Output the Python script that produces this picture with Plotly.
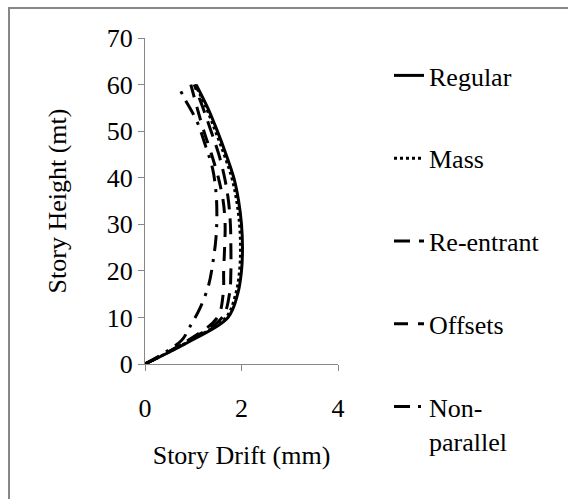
import plotly.graph_objects as go

# Story heights (m)
heights = [0, 5, 10, 15, 20, 25, 30, 35, 40, 45, 50, 55, 60]
heights_np = [0, 5, 8, 12, 17, 22, 27, 32, 37, 42, 47, 52, 57, 59]

# Story drift (mm)
regular = [0, 0.95, 1.72, 1.92, 2.0, 2.02, 2.0, 1.94, 1.84, 1.68, 1.5, 1.3, 1.06]
mass = [0, 0.93, 1.68, 1.88, 1.96, 1.98, 1.96, 1.9, 1.8, 1.64, 1.46, 1.27, 1.04]
re_entrant = [0, 0.9, 1.6, 1.75, 1.78, 1.78, 1.77, 1.73, 1.65, 1.53, 1.37, 1.2, 1.02]
offsets = [0, 0.88, 1.5, 1.62, 1.63, 1.65, 1.66, 1.62, 1.52, 1.38, 1.22, 1.08, 0.95]
non_parallel = [0, 0.75, 0.93, 1.14, 1.32, 1.41, 1.47, 1.49, 1.47, 1.4, 1.25, 1.08, 0.82, 0.72]

x_ticks = [0, 2, 4]
y_ticks = [0, 10, 20, 30, 40, 50, 60, 70]

FONT = "Liberation Serif, Times New Roman, serif"
FS = 26

series = [
    ("Regular", regular, heights, "solid"),
    ("Mass", mass, heights, "3px,3px"),
    ("Re-entrant", re_entrant, heights, "16px,9px"),
    ("Offsets", offsets, heights, "14px,10px"),
    ("Non-<br>parallel", non_parallel, heights_np, "16px,8px,3px,8px"),
]

fig = go.Figure()
for i, (name, xs, ys, dash) in enumerate(series):
    fig.add_trace(go.Scatter(
        x=xs, y=ys, mode="lines", name=name, legendgroup=f"g{i}",
        line=dict(color="black", width=3, dash=dash, shape="spline", smoothing=1.0),
    ))

# plot area: x 145..338 px, y 38..364 px
L, R, T, B = 145, 338, 38, 364
W, H = 568, 499
pw, ph = R - L, B - T

def px_x(p):
    return (p - L) / pw

def px_y(p):
    return (B - p) / ph

fig.add_shape(type="rect", xref="paper", yref="paper",
              x0=px_x(9), x1=px_x(585), y0=px_y(520), y1=px_y(8),
              line=dict(color="#878787", width=2), fillcolor="rgba(0,0,0,0)", layer="below")

fig.update_layout(
    width=W, height=H,
    margin=dict(l=L, r=W - R, t=T, b=H - B),
    paper_bgcolor="white", plot_bgcolor="white",
    font=dict(family=FONT, size=FS, color="black"),
    showlegend=True,
    legend=dict(
        x=px_x(389), y=px_y(52), xanchor="left", yanchor="top",
        traceorder="grouped", tracegroupgap=46, valign="top",
        font=dict(family=FONT, size=FS, color="black"),
        bgcolor="rgba(0,0,0,0)", itemwidth=30, maxheight=490,
    ),
    xaxis=dict(
        range=[0, 4], tickvals=x_ticks, ticks="outside", ticklen=6, tickcolor="#878787",
        showline=True, linecolor="#878787", linewidth=1, showgrid=False, zeroline=False,
        ticklabelstandoff=15,
        title=dict(text="Story Drift (mm)", standoff=23, font=dict(family=FONT, size=FS)),
        fixedrange=True,
    ),
    yaxis=dict(
        range=[0, 70], tickvals=y_ticks, ticks="outside", ticklen=6, tickcolor="#878787",
        showline=True, linecolor="#878787", linewidth=1, showgrid=False, zeroline=False,
        title=dict(text="Story Height (mt)", standoff=32, font=dict(family=FONT, size=FS)),
        fixedrange=True,
    ),
)

fig.write_html("out.html")
